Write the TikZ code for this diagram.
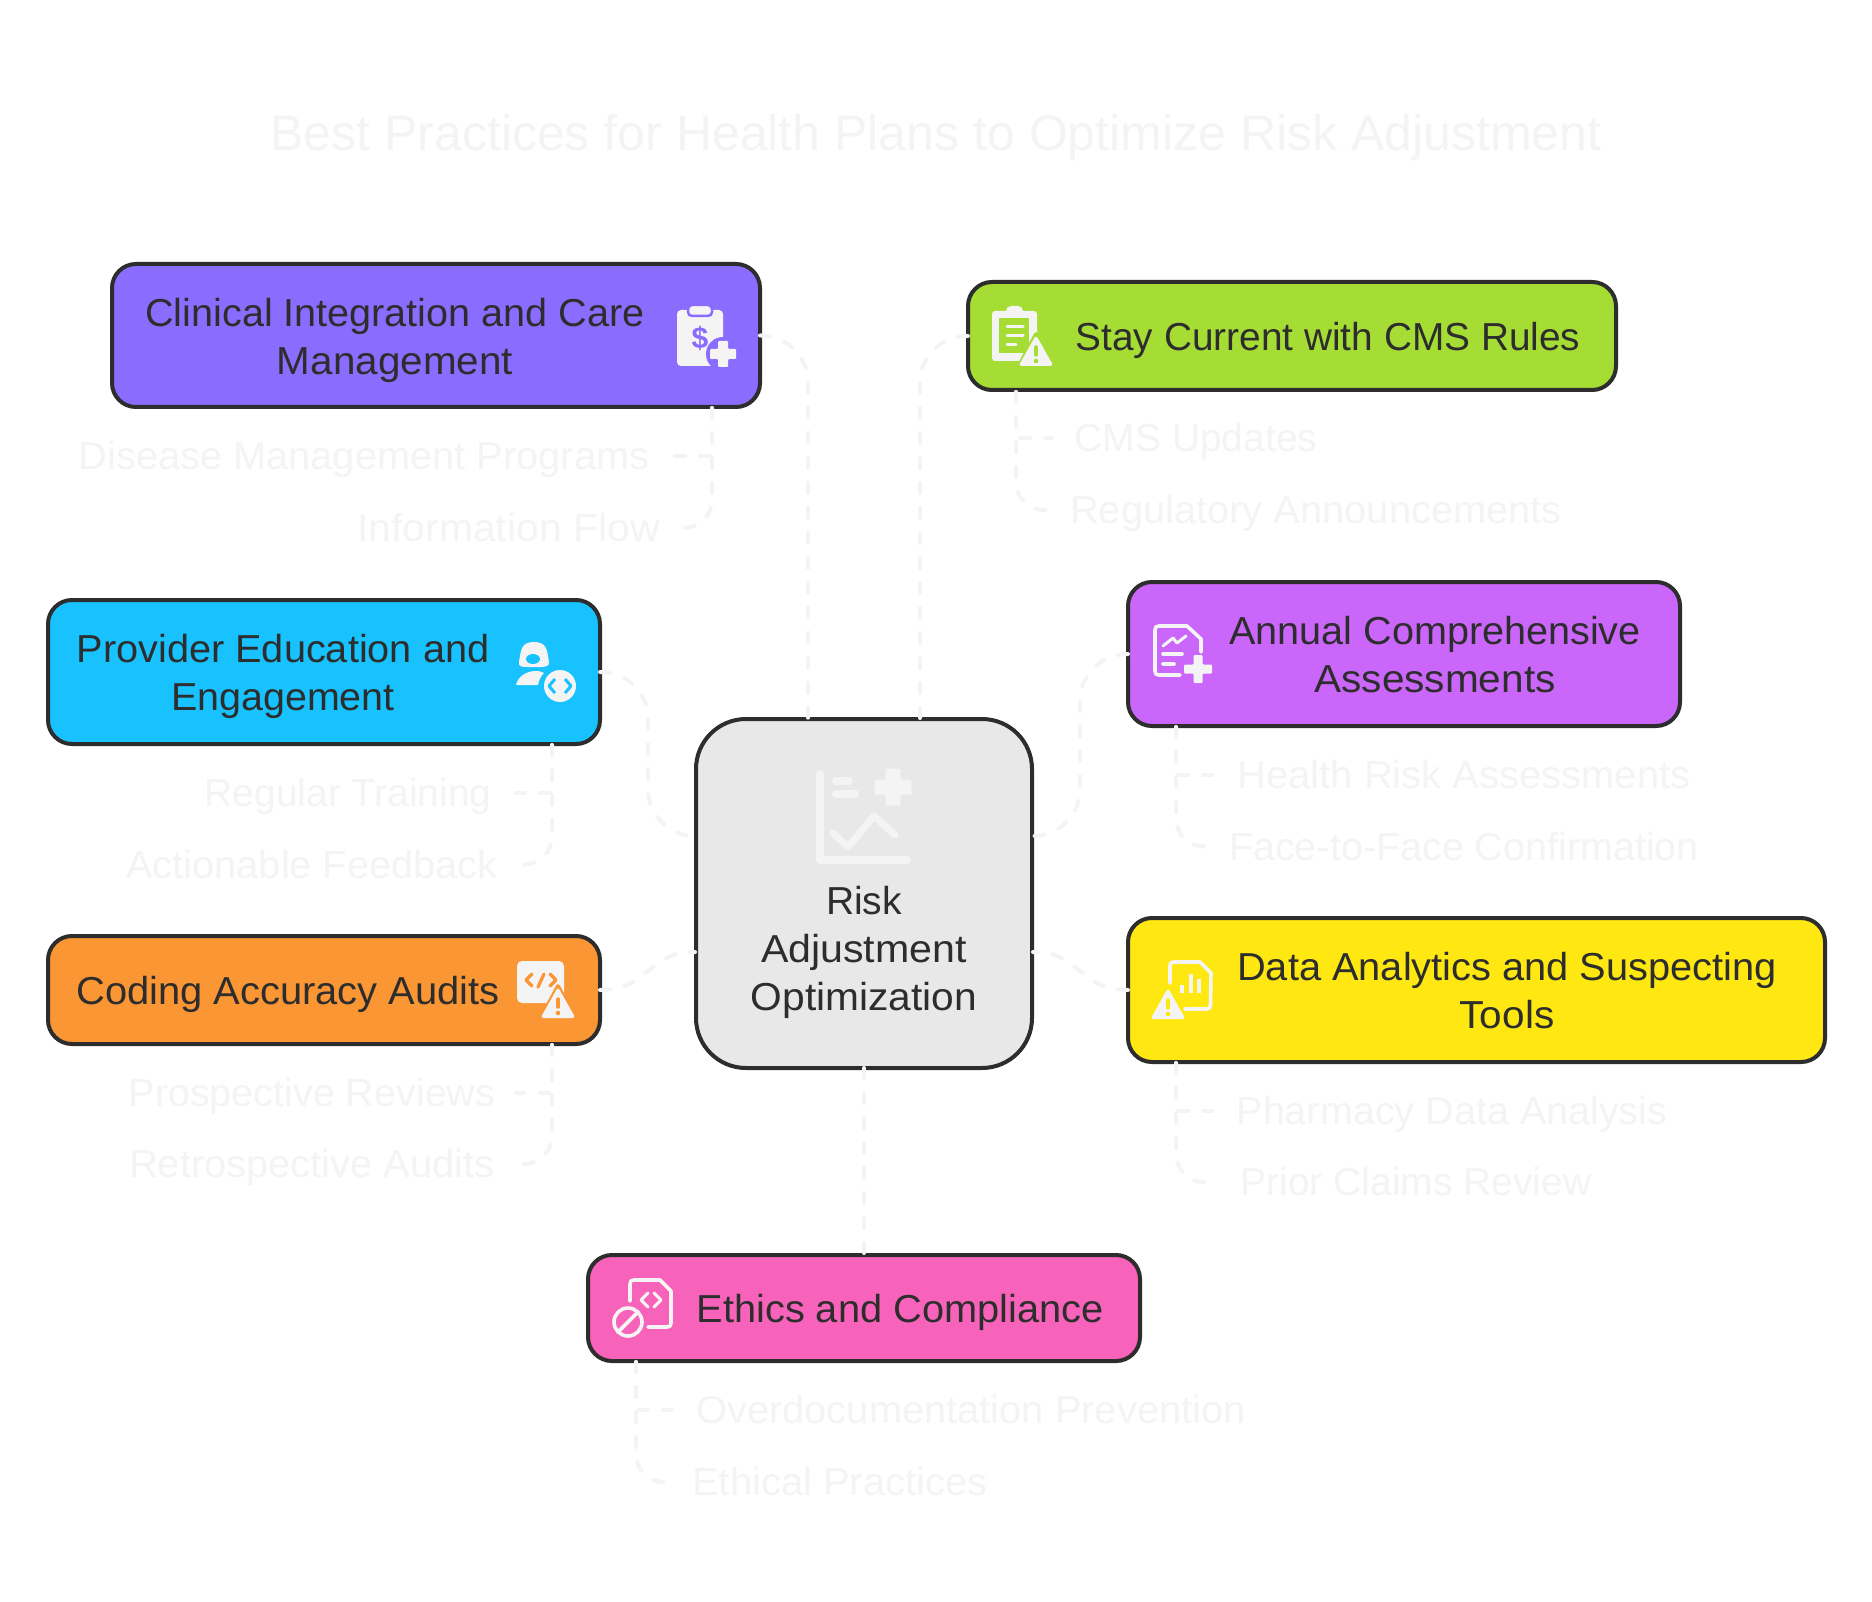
\documentclass[tikz,border=0pt]{standalone}
\usepackage{graphicx}
\usepackage{fontspec}
\setmainfont{Liberation Sans}
\definecolor{ink}{HTML}{2D2D2D}
\definecolor{pale}{HTML}{F4F4F5}
\definecolor{cPurple}{HTML}{8A6CFF}
\definecolor{cGreen}{HTML}{A6DD35}
\definecolor{cMagenta}{HTML}{CB66FA}
\definecolor{cYellow}{HTML}{FFE812}
\definecolor{cBlue}{HTML}{18C2FF}
\definecolor{cOrange}{HTML}{FA9634}
\definecolor{cPink}{HTML}{F763BA}
\definecolor{cGrey}{HTML}{E8E8E8}
\newcommand\sx[2]{\scalebox{#1}[1]{#2}}
\newcommand\WarnIcon[3]{%
  \fill[#3,rounded corners=4pt] (#1,#2-6) -- (#1-21,#2+33) -- (#1+21,#2+33) -- cycle;
  \fill[pale,rounded corners=3pt] (#1,#2-1) -- (#1-17.5,#2+30) -- (#1+17.5,#2+30) -- cycle;
  \draw[#3,line width=3.5pt,line cap=round] (#1,#2+11) -- (#1,#2+19);
  \fill[#3] (#1,#2+25) circle (2.3pt);
}
\newcommand\PlusIcon[4]{%
  \fill[pale,rounded corners=1pt] (#1-#3/2,#2-#4/2) -- (#1-#4/2,#2-#4/2) -- (#1-#4/2,#2-#3/2) -- (#1+#4/2,#2-#3/2) -- (#1+#4/2,#2-#4/2) -- (#1+#3/2,#2-#4/2) -- (#1+#3/2,#2+#4/2) -- (#1+#4/2,#2+#4/2) -- (#1+#4/2,#2+#3/2) -- (#1-#4/2,#2+#3/2) -- (#1-#4/2,#2+#4/2) -- (#1-#3/2,#2+#4/2) -- cycle;
}
\tikzset{
  box/.style={draw=ink,line width=4pt,rounded corners=24pt,inner sep=0pt,outer sep=0pt},
  hub/.style={box,rounded corners=50pt,fill=cGrey},
  mainlabel/.style={text=ink,align=center,inner sep=0pt,yshift=-5pt,font=\fontsize{39}{48}\selectfont,execute at begin node=\strut,execute at end node=\strut},
  multiline/.style={yshift=-3pt},
  sublabel/.style={text=pale,inner sep=0pt,yshift=-4pt,font=\fontsize{39}{48}\selectfont,execute at begin node=\strut},
  heading/.style={text=pale,inner sep=0pt,font=\fontsize{50}{56}\selectfont},
  conn/.style={draw=pale,line width=4pt,line cap=round,dash pattern=on 10pt off 15pt},
  glyphline/.style={pale,line width=3.6pt,line cap=round,line join=round},
}
\begin{document}
\begin{tikzpicture}[x=1pt,y=-1pt]
\useasboundingbox (0,0) rectangle (1872,1602);
\fill[white] (0,0) rectangle (1872,1602);

\node[heading] (title) at (936,138) {Best Practices for Health Plans to Optimize Risk Adjustment};

% boxes
\node[hub,minimum width=336,minimum height=349] (hubnode) at (864,893.5) {};
\node[box,fill=cPurple,minimum width=648,minimum height=143] (clin) at (436,335.5) {};
\node[box,fill=cGreen,minimum width=648,minimum height=108] (stay) at (1292,336) {};
\node[box,fill=cBlue,minimum width=552,minimum height=144] (prov) at (324,672) {};
\node[box,fill=cMagenta,minimum width=552,minimum height=144] (annu) at (1404,654) {};
\node[box,fill=cOrange,minimum width=552,minimum height=108] (codi) at (324,990) {};
\node[box,fill=cYellow,minimum width=697,minimum height=144] (data) at (1476.5,990) {};
\node[box,fill=cPink,minimum width=552,minimum height=106] (ethi) at (864,1308) {};

% box texts
\node[mainlabel,multiline] (hubtext) at (864,948) {Risk\\\sx{1.055}{Adjustment}\\\sx{1.044}{Optimization}};
\node[mainlabel,multiline] (clintext) at (395,336) {\sx{1.015}{Clinical Integration and Care}\\\sx{1.037}{Management}};
\node[mainlabel] (staytext) at (1328,336) {\sx{0.995}{Stay Current with CMS Rules}};
\node[mainlabel,multiline] (provtext) at (283,672) {\sx{1.018}{Provider Education and}\\\sx{1.011}{Engagement}};
\node[mainlabel,multiline] (annutext) at (1435,654) {\sx{1.015}{Annual Comprehensive}\\\sx{1.04}{Assessments}};
\node[mainlabel] (coditext) at (288,990) {\sx{1.023}{Coding Accuracy Audits}};
\node[mainlabel,multiline] (datatext) at (1507,990) {\sx{1.02}{Data Analytics and Suspecting}\\\sx{1.04}{Tools}};
\node[mainlabel] (ethitext) at (900,1308) {\sx{1.02}{Ethics and Compliance}};

% sub labels
\node[sublabel] (s1) at (364,456) {\sx{1.021}{Disease Management Programs}};
\node[sublabel] (s2) at (508.5,528) {\sx{1.05}{Information Flow}};
\node[sublabel] (s3) at (1196,438) {CMS Updates};
\node[sublabel] (s4) at (1316,510) {\sx{1.022}{Regulatory Announcements}};
\node[sublabel] (s5) at (348,793) {Regular Training};
\node[sublabel] (s6) at (312,864.5) {\sx{1.02}{Actionable Feedback}};
\node[sublabel] (s7) at (1464,775) {\sx{1.024}{Health Risk Assessments}};
\node[sublabel] (s8) at (1464,846.5) {\sx{1.013}{Face-to-Face Confirmation}};
\node[sublabel] (s9) at (312,1092.5) {\sx{1.013}{Prospective Reviews}};
\node[sublabel] (s10) at (312,1164) {\sx{1.023}{Retrospective Audits}};
\node[sublabel] (s11) at (1452,1110.5) {\sx{1.014}{Pharmacy Data Analysis}};
\node[sublabel] (s12) at (1416,1182) {Prior Claims Review};
\node[sublabel] (s13) at (971,1410) {\sx{1.022}{Overdocumentation Prevention}};
\node[sublabel] (s14) at (840,1482) {\sx{1.025}{Ethical Practices}};

% connector anchors on the hub
\coordinate (hubTL) at (808,718);
\coordinate (hubTR) at (920,718);
\coordinate (hubL1) at (695,836);
\coordinate (hubL2) at (695,952);
\coordinate (hubR1) at (1033,836);
\coordinate (hubR2) at (1033,952);
\coordinate (clinB) at (712,408);
\coordinate (stayB) at (1016,392);
\coordinate (provB) at (552,745);
\coordinate (annuB) at (1176,727);
\coordinate (codiB) at (552,1045);
\coordinate (dataB) at (1176,1063);
\coordinate (ethiB) at (636,1362);

% hub connectors
\draw[conn,rounded corners=47pt] (clin.east) -| (hubTL);
\draw[conn,rounded corners=47pt] (stay.west) -| (hubTR);
\draw[conn,rounded corners=47pt] (prov.east) -- (648,672) -- (648,836) -- (hubL1);
\draw[conn,rounded corners=47pt] (annu.west) -- (1080,654) -- (1080,836) -- (hubR1);
\draw[conn] (codi.east) .. controls (650,990) and (646,952) .. (hubL2);
\draw[conn] (data.west) .. controls (1078,990) and (1082,952) .. (hubR2);
\draw[conn] (hubnode.south) -- (ethi.north);

% child connectors
\draw[conn] (clinB) |- (675,456);
\draw[conn,rounded corners=28pt] (clinB) |- (675,528);
\draw[conn] (stayB) |- (1052,438);
\draw[conn,rounded corners=28pt] (stayB) |- (1052,510);
\draw[conn] (provB) |- (516,793);
\draw[conn,rounded corners=28pt] (provB) |- (516,864.5);
\draw[conn] (annuB) |- (1212,775);
\draw[conn,rounded corners=28pt] (annuB) |- (1212,846.5);
\draw[conn] (codiB) |- (516,1092.5);
\draw[conn,rounded corners=28pt] (codiB) |- (516,1164);
\draw[conn] (dataB) |- (1212,1110.5);
\draw[conn,rounded corners=28pt] (dataB) |- (1212,1182);
\draw[conn] (ethiB) |- (672,1410);
\draw[conn,rounded corners=28pt] (ethiB) |- (672,1482);

% hub icon
\draw[pale,line width=8pt,line cap=round,line join=round] (820,774) -- (820,859.5) -- (907,859.5);
\draw[pale,line width=8pt,line cap=round] (836,781) -- (849,781);
\draw[pale,line width=8pt,line cap=round] (836,794) -- (855,794);
\draw[pale,line width=7pt,line cap=round,line join=round] (833,833) -- (848,847) -- (874,816) -- (895,835);
\PlusIcon{893}{787}{37}{15}

% clinical icon
\fill[pale,rounded corners=4pt] (677,310) rectangle (723,366);
\filldraw[fill=pale,draw=cPurple,line width=2.5pt,rounded corners=4pt] (688,305) rectangle (712,316);
\node[text=cPurple,inner sep=0pt,font=\fontsize{30}{30}\selectfont\bfseries] (dollar) at (700,338) {\$};
\fill[cPurple] (723,354) circle (17pt);
\PlusIcon{723}{354}{26}{10}

% stay icon
\fill[pale,rounded corners=3pt] (992,311) rectangle (1037,361);
\fill[pale,rounded corners=5pt] (1006,306) rectangle (1023,316);
\fill[cGreen] (999,318) rectangle (1029,353);
\draw[glyphline,line width=3pt] (1007,327) -- (1023,327);
\draw[glyphline,line width=3pt] (1007,336) -- (1023,336);
\draw[glyphline,line width=3pt] (1007,345) -- (1016,345);
\WarnIcon{1036}{336}{cGreen}

% provider icon
\fill[pale] (519,662) .. controls (521,650) and (521,642) .. (534,642) .. controls (547,642) and (547,650) .. (549,662) .. controls (550,667) and (543,667) .. (541,667) -- (527,667) .. controls (523,667) and (518,667) .. (519,662) -- cycle;
\fill[cBlue] (533,659) ellipse (7pt and 5pt);
\fill[pale] (516,685) .. controls (518,676) and (527,671) .. (536,671) .. controls (540,671) and (542,672) .. (544,673) .. controls (541,676) and (539,680) .. (538,685) -- cycle;
\fill[pale] (560,686) circle (16pt);
\draw[cBlue,line width=3pt,line join=round] (555,679) -- (549,686) -- (555,693);
\draw[cBlue,line width=3pt,line join=round] (565,679) -- (571,686) -- (565,693);

% annual icon
\draw[glyphline] (1201,652) -- (1201,639) -- (1187,626) -- (1159,626) .. controls (1156,626) and (1155,627) .. (1155,630) -- (1155,671) .. controls (1155,674) and (1156,675) .. (1159,675) -- (1180,675);
\draw[glyphline,line width=3pt] (1163,646) -- (1173,638) -- (1177,643) -- (1186,636);
\draw[glyphline] (1163,654) -- (1182,654);
\draw[glyphline] (1163,664) -- (1174,664);
\PlusIcon{1198}{669}{28}{9}

% coding icon
\fill[pale,rounded corners=5pt] (517,961) rectangle (564,1003);
\draw[cOrange,line width=3.2pt,line cap=round,line join=round] (532,974) -- (526,980) -- (532,986);
\draw[cOrange,line width=3.2pt,line cap=round,line join=round] (550,974) -- (556,980) -- (550,986);
\draw[cOrange,line width=3.2pt,line cap=round] (544,974) -- (538,987);
\WarnIcon{558}{988}{cOrange}

% data icon
\draw[glyphline] (1170,983) -- (1170,966) .. controls (1170,963) and (1171,962) .. (1174,962) -- (1200,962) -- (1211,973) -- (1210.5,1005) .. controls (1210.5,1008) and (1209,1009) .. (1207,1009) -- (1185,1009);
\draw[glyphline,line width=4.4pt,line cap=butt] (1182,993) -- (1182,985);
\draw[glyphline,line width=4.4pt,line cap=butt] (1191,993) -- (1191,974);
\draw[glyphline,line width=4.4pt,line cap=butt] (1199,993) -- (1199,979);
\WarnIcon{1168}{989}{cYellow}

% ethics icon
\draw[glyphline] (630,1301) -- (630,1284) .. controls (630,1281) and (631,1280) .. (634,1280) -- (660,1280) -- (671,1291) -- (671,1323) .. controls (671,1326) and (670,1327) .. (667,1327) -- (648,1327);
\draw[glyphline,line width=3pt] (648,1293) -- (641,1300) -- (648,1307);
\draw[glyphline,line width=3pt] (654,1293) -- (661,1300) -- (654,1307);
\draw[glyphline] (628,1322) circle (14pt);
\draw[glyphline] (618,1332) -- (638,1312);
\end{tikzpicture}
\end{document}
